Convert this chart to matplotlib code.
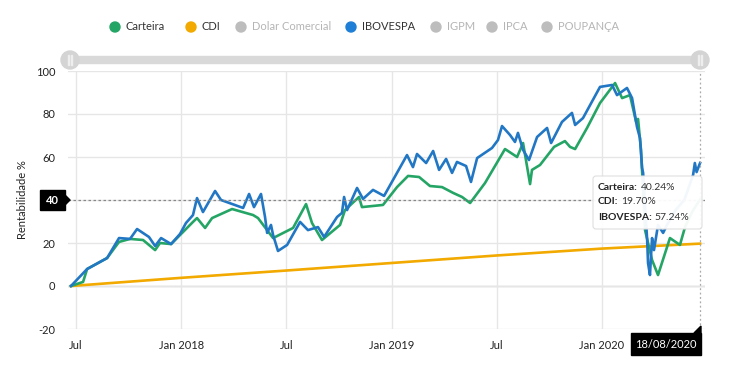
import matplotlib
matplotlib.use("Agg")
import matplotlib.pyplot as plt
import matplotlib.transforms as mtrans
from matplotlib.patches import Circle, FancyBboxPatch, Polygon, Rectangle

plt.rcParams['font.family'] = ['Lato', 'DejaVu Sans']
plt.rcParams['axes.unicode_minus'] = False

# x = months since Jul 2017 (Jan 2018 = 6, ...); y = rentabilidade %
ibov_x = [-0.29, 0.63, 1.77, 2.45, 3.08, 3.48, 4.16, 4.51, 4.85, 5.42, 5.93, 6.27, 6.67, 6.90,
          7.24, 7.93, 8.27, 9.53, 9.87, 10.15, 10.55, 10.78, 10.90, 11.12, 11.24, 11.52, 12.04,
          12.78, 13.23, 13.80, 14.15, 14.89, 15.17, 15.29, 15.46, 16.03, 16.37, 16.94, 17.57,
          18.88, 19.22, 19.45, 19.97, 20.37, 20.71, 21.11, 21.45, 21.73, 22.25, 22.53, 22.88,
          23.73, 24.07, 24.30, 24.76, 25.04, 25.21, 25.50, 25.84, 26.30, 26.87, 27.10, 27.72,
          28.29, 28.47, 28.92, 29.89, 30.58, 30.86, 31.43, 31.72, 32.00, 32.17, 32.29, 32.35,
          32.58, 32.63, 32.74, 32.86, 32.97, 33.20, 33.49, 33.71, 34.2, 34.7, 35.0, 35.2, 35.3,
          35.4, 35.6]
ibov_y = [0, 7.9, 13.0, 22.3, 21.9, 26.5, 22.8, 18.6, 22.3, 19.5, 24.2, 29.3, 33.0, 40.9,
          34.4, 44.2, 40.0, 36.3, 42.8, 36.7, 42.8, 32.1, 24.7, 28.4, 23.7, 16.3, 19.1,
          29.8, 26.0, 27.4, 22.8, 32.1, 34.0, 41.4, 35.3, 45.6, 40.5, 44.7, 41.9,
          60.9, 55.3, 61.4, 57.2, 62.8, 54.0, 59.1, 52.6, 57.7, 55.8, 48.4, 59.5,
          64.2, 67.9, 74.4, 70.2, 67.0, 71.2, 63.3, 58.6, 69.3, 73.5, 66.5, 76.3,
          80.5, 74.9, 78.1, 92.6, 93.5, 88.8, 92.1, 87.4, 74.0, 68.8, 54.9, 52.6,
          21.4, 10.7, 5.1, 22.3, 16.7, 28.4, 24.7, 28.4, 35.3, 40.0, 47.0, 51.6, 57.2,
          53.0, 57.24]

cart_x = [-0.29, 0.40, 0.63, 1.77, 2.45, 3.08, 3.82, 4.51, 4.79, 5.42, 6.10, 6.67, 6.90, 7.36,
          7.76, 8.90, 10.10, 10.38, 11.24, 12.38, 13.12, 13.46, 14.03, 15.06, 15.34, 16.14,
          16.31, 17.51, 18.31, 18.94, 19.57, 20.19, 20.88, 21.51, 22.02, 22.48, 23.33, 24.47,
          25.16, 25.50, 25.90, 26.01, 26.47, 27.27, 27.89, 28.18, 28.47, 29.15, 29.89, 30.75,
          31.15, 31.60, 31.95, 32.06, 32.23, 32.46, 32.86, 33.20, 33.88, 34.45, 34.74, 35.14,
          35.6]
cart_y = [0, 1.9, 7.9, 13.0, 20.5, 21.9, 21.4, 16.7, 20.0, 19.5, 25.1, 29.8, 31.6, 27.0,
          31.6, 35.8, 33.0, 31.6, 22.3, 27.0, 38.1, 29.3, 21.4, 28.4, 35.3, 41.4,
          36.7, 37.7, 46.0, 51.2, 50.7, 46.5, 46.0, 43.3, 41.4, 38.6, 47.9, 63.7,
          60.0, 66.5, 47.4, 54.0, 56.3, 64.7, 67.4, 64.7, 63.7, 73.5, 85.1, 94.4,
          87.4, 88.8, 76.3, 77.7, 63.3, 26.0, 12.1, 5.1, 22.3, 19.1, 27.4, 34.4,
          40.24]

cdi_x = [-0.29, 6, 12, 18, 24, 30, 35.6]
cdi_y = [0, 3.8, 7.2, 10.7, 14.2, 17.4, 19.70]

tick_pos = [0, 6, 12, 18, 24, 30]
tick_labels = ['Jul', 'Jan 2018', 'Jul', 'Jan 2019', 'Jul', 'Jan 2020']
y_ticks = [-20, 0, 20, 40, 60, 80, 100]

legend_names = ['Carteira', 'CDI', 'Dolar Comercial', 'IBOVESPA', 'IGPM', 'IPCA', 'POUPANÇA']
legend_active = [True, True, False, True, False, False, False]

C_GREEN = '#25a565'
C_ORANGE = '#f2a900'
C_BLUE = '#2277c4'
C_GRAY = '#bdbdbd'

W, H = 742, 378
fig = plt.figure(figsize=(W / 100, H / 100), dpi=100)
fig.patch.set_facecolor('white')

L, R, T, B = 68, 705, 71, 329
ax = fig.add_axes([L / W, 1 - B / H, (R - L) / W, (B - T) / H])
ax.set_xlim(-0.46, 35.88)
ax.set_ylim(-20, 100)
for s in ax.spines.values():
    s.set_visible(False)
ax.set_yticks(y_ticks)
ax.set_yticklabels([('' if v == 40 else str(v)) for v in y_ticks])
ax.set_xticks(tick_pos)
ax.set_xticklabels(tick_labels)
ax.tick_params(length=0, labelsize=8, colors='#222222', pad=8)
ax.tick_params(axis='y', pad=9)
ax.grid(True, color='#e6e6e6', lw=1)
ax.axhline(0, color='#c8c8c8', lw=1, zorder=1)
ax.set_ylabel('Rentabilidade %', fontsize=8, color='#222222', labelpad=6)

ax.plot(cdi_x, cdi_y, color=C_ORANGE, lw=1.9, zorder=3)
ax.plot(cart_x, cart_y, color=C_GREEN, lw=1.9, zorder=4)
ax.plot(ibov_x, ibov_y, color=C_BLUE, lw=1.9, zorder=5)

# crosshair
ax.axhline(40, color='#888888', lw=0.9, ls=(0, (2, 2)), zorder=6)
ax.axvline(35.6, color='#aaaaaa', lw=0.9, ls=(0, (1.5, 2)), zorder=6)

# overlay in pixel coords for UI decorations
ov = fig.add_axes([0, 0, 1, 1], zorder=10)
ov.set_xlim(0, W)
ov.set_ylim(H, 0)
ov.axis('off')

# legend
lx = [115, 191, 241, 351, 436, 492, 547]
for x, name, act in zip(lx, legend_names, legend_active):
    col = {'Carteira': C_GREEN, 'CDI': C_ORANGE, 'IBOVESPA': '#1f7fd6'}.get(name, C_GRAY)
    ov.add_patch(Circle((x, 27), 5, color=col))
    ov.text(x + 11, 27, name, fontsize=8, va='center', ha='left',
            color='#333333' if act else '#b5b5b5')

# range slider
ov.add_patch(Rectangle((70, 56), 630, 7, color='#d9d9d9'))
for x in (70, 700):
    ov.add_patch(Circle((x, 60), 9, color='#d4d4d4'))
    ov.add_patch(Rectangle((x - 2, 55), 1, 10, color='#eeeeee'))
    ov.add_patch(Rectangle((x + 1, 55), 1, 10, color='#eeeeee'))

# y crosshair label
ov.add_patch(Rectangle((40, 190), 25, 20, color='black'))
ov.add_patch(Polygon([(65, 195), (70, 200), (65, 205)], color='black'))
ov.text(52, 200, '40', color='white', fontsize=8, ha='center', va='center', fontweight='bold')

# x crosshair label
ov.add_patch(Rectangle((631, 333), 70, 22, color='black'))
ov.add_patch(Polygon([(694, 333), (701, 326), (701, 333)], color='black'))
ov.text(666, 344, '18/08/2020', color='white', fontsize=8, ha='center', va='center')

# tooltip
ov.add_patch(FancyBboxPatch((593, 176), 109, 53, boxstyle='round,pad=0,rounding_size=3',
                            fc='white', ec='#dddddd', lw=0.8, alpha=0.95))
rows = [('Carteira:', '40.24%'), ('CDI:', '19.70%'), ('IBOVESPA:', '57.24%')]
fig.canvas.draw()
for i, (k, v) in enumerate(rows):
    y = 187 + i * 15
    t = ov.text(598, y, k, fontsize=7.5, fontweight='bold', color='#222222', va='center')
    bb = t.get_window_extent(renderer=fig.canvas.get_renderer())
    ov.text(bb.x1 + 3, y, v, fontsize=7.5, color='#333333', va='center',
            transform=mtrans.blended_transform_factory(mtrans.IdentityTransform(), ov.transData))

fig.savefig('out.png', dpi=100, facecolor='white')
